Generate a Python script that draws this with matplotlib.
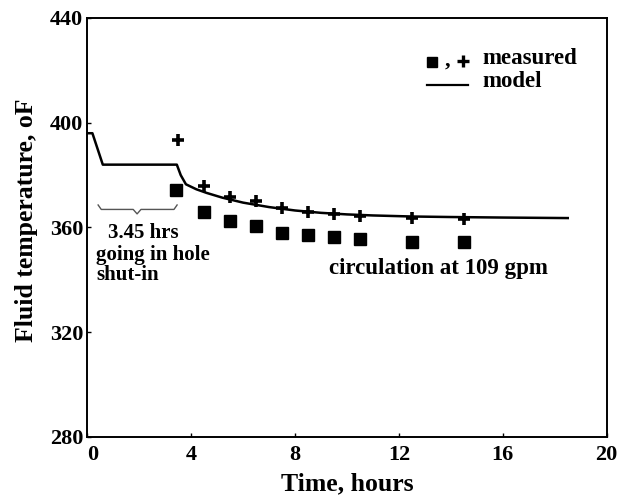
import matplotlib.pyplot as plt
from matplotlib.transforms import ScaledTranslation

# model curve (hours, deg F)
model_t = [0, 0.2, 0.6, 3.45, 3.6, 3.8, 4.2, 4.6, 5.2, 6.0, 7.0, 8.0, 9.0, 10.0, 11.0, 12.5, 14.0, 16.0, 18.5]
model_temp = [396, 396, 384, 384, 380, 376.5, 374.6, 373.2, 371.4, 369.5, 367.8, 366.5, 365.6, 365.0, 364.6, 364.2, 364.0, 363.8, 363.6]

# measured points
plus_t = [3.5, 4.5, 5.5, 6.5, 7.5, 8.5, 9.5, 10.5, 12.5, 14.5]
plus_temp = [393.5, 375.8, 371.5, 370.3, 367.6, 365.9, 365.1, 364.4, 363.8, 363.2]
square_t = [3.4, 4.5, 5.5, 6.5, 7.5, 8.5, 9.5, 10.5, 12.5, 14.5]
square_temp = [374.3, 366.0, 362.5, 360.4, 357.9, 357.1, 356.4, 355.6, 354.5, 354.5]

plt.rcParams['font.family'] = ['Liberation Serif', 'DejaVu Serif']
plt.rcParams['font.weight'] = 'bold'

fig = plt.figure(figsize=(6.32, 5.0), dpi=100)
ax = fig.add_axes([0.138, 0.126, 0.822, 0.838])

ax.plot(model_t, model_temp, color='black', linewidth=1.8)
ax.plot(plus_t, plus_temp, linestyle='none', marker='+', markersize=9,
        markeredgewidth=2.6, color='black')
ax.plot(square_t, square_temp, linestyle='none', marker='s', markersize=9,
        color='black')

# brace under the shut-in period
bx0, bx1 = 0.42, 3.46
bmid = 1.92
ax.plot([bx0, bx0 + 0.12, bmid - 0.15, bmid, bmid + 0.15, bx1 - 0.12, bx1],
        [368.6, 366.9, 366.9, 365.2, 366.9, 366.9, 368.6],
        color='#555555', linewidth=1.0)

ax.text(2.15, 357.9, '3.45 hrs', ha='center', va='center', fontsize=15, fontweight='bold')
ax.text(0.35, 349.5, 'going in hole', ha='left', va='center', fontsize=15, fontweight='bold')
ax.text(0.35, 342.0, 'shut-in', ha='left', va='center', fontsize=15, fontweight='bold')
ax.text(9.3, 344.5, 'circulation at 109 gpm', ha='left', va='center', fontsize=16.5,
        fontweight='bold')

# legend drawn by hand
ax.plot([13.27], [423.2], marker='s', markersize=7, color='black', linestyle='none')
ax.text(13.75, 423.6, ',', ha='left', va='center', fontsize=16, fontweight='bold')
ax.plot([14.46], [423.6], marker='+', markersize=8, markeredgewidth=2.4, color='black',
        linestyle='none')
ax.text(15.2, 424.7, 'measured', ha='left', va='center', fontsize=16.5, fontweight='bold')
ax.plot([13.08, 14.65], [414.4, 414.4], color='black', linewidth=1.6)
ax.text(15.2, 415.6, 'model', ha='left', va='center', fontsize=16.5, fontweight='bold')

ax.set_xlim(0, 20)
ax.set_ylim(280, 440)
ax.set_xticks([0, 4, 8, 12, 16, 20])
ax.set_yticks([280, 320, 360, 400, 440])
ax.tick_params(direction='in', length=3, width=1, labelsize=16)
ax.tick_params(axis='x', pad=6)
ax.tick_params(axis='y', pad=3)
for lab in ax.get_xticklabels() + ax.get_yticklabels():
    lab.set_fontweight('bold')
# nudge the "0" so it clears the "280"
zero = ax.get_xticklabels()[0]
zero.set_transform(zero.get_transform() + ScaledTranslation(5 / 100, 0, fig.dpi_scale_trans))
for sp in ax.spines.values():
    sp.set_linewidth(1.4)

ax.set_xlabel('Time, hours', fontsize=18.5, fontweight='bold', labelpad=5)
ax.set_ylabel('Fluid temperature, oF', fontsize=18.5, fontweight='bold')
ax.yaxis.set_label_coords(-0.094, 0.518)

fig.savefig('out.png', dpi=100)
